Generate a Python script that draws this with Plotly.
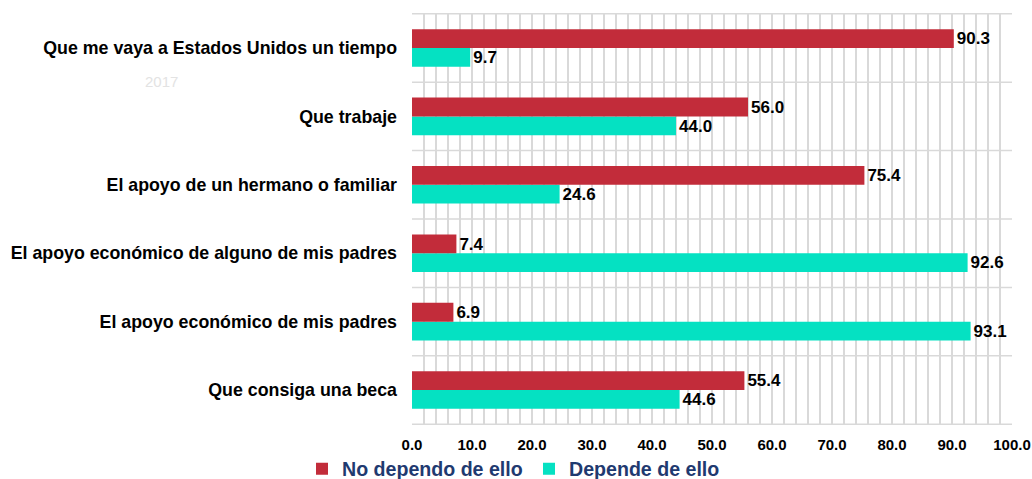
import plotly.graph_objects as go

categories = [
    "Que me vaya a Estados Unidos un tiempo",
    "Que trabaje",
    "El apoyo de un hermano o familiar",
    "El apoyo económico de alguno de mis padres",
    "El apoyo económico de mis padres",
    "Que consiga una beca",
]
no_depende = [90.3, 56.0, 75.4, 7.4, 6.9, 55.4]
depende = [9.7, 44.0, 24.6, 92.6, 93.1, 44.6]
x_ticks = [0, 10, 20, 30, 40, 50, 60, 70, 80, 90, 100]

RED = "#C22C3A"
CYAN = "#05E1C2"
FONT = "Arial, Liberation Sans, sans-serif"

fig = go.Figure()
fig.add_trace(go.Bar(
    y=categories, x=depende, orientation="h", name="Depende de ello",
    marker=dict(color=CYAN, line=dict(width=0)),
    text=[f"{v:.1f}" for v in depende], textposition="outside",
    textfont=dict(family=FONT, size=19, color="black", weight="bold"),
    cliponaxis=False, legendrank=2,
))
fig.add_trace(go.Bar(
    y=categories, x=no_depende, orientation="h", name="No dependo de ello",
    marker=dict(color=RED, line=dict(width=0)),
    text=[f"{v:.1f}" for v in no_depende], textposition="outside",
    textfont=dict(family=FONT, size=19, color="black", weight="bold"),
    cliponaxis=False, legendrank=1,
))

shapes = []
for i in range(len(categories) + 1):
    shapes.append(dict(type="line", xref="paper", x0=0, x1=1, yref="y",
                       y0=i - 0.5, y1=i - 0.5, line=dict(color="#D9D9D9", width=1.5),
                       layer="below"))

fig.update_layout(
    width=1032, height=479,
    margin=dict(l=412, r=20, t=13, b=54, autoexpand=False),
    paper_bgcolor="white", plot_bgcolor="white",
    barmode="group", bargap=0.45, bargroupgap=0,
    showlegend=True,
    legend=dict(orientation="h", xref="container", yref="container",
                x=302 / 1032, xanchor="left", y=1 - 469 / 479, yanchor="middle",
                font=dict(family=FONT, size=19.6, color="#1F3A70", weight="bold"),
                itemwidth=30, entrywidth=182, entrywidthmode="pixels"),
    shapes=shapes,
    annotations=[dict(text="2017", x=(161 - 412) / 600, y=(425 - 81) / 412,
                      xref="paper", yref="paper", xanchor="center", yanchor="middle",
                      showarrow=False,
                      font=dict(family=FONT, size=15, color="#E3E3E3"))],
)

fig.update_xaxes(
    range=[0, 100], tickvals=x_ticks, ticktext=[f"{v:.1f}" for v in x_ticks],
    tickfont=dict(family=FONT, size=15, color="black", weight="bold"),
    showgrid=True, gridcolor="#D9D9D9", gridwidth=1.5,
    minor=dict(dtick=2, showgrid=True, gridcolor="#D9D9D9", gridwidth=1.5),
    zeroline=False, showline=False, ticks="", ticklabelstandoff=9,
)
fig.update_yaxes(
    categoryorder="array", categoryarray=categories[::-1],
    tickfont=dict(family=FONT, size=17.8, color="black", weight="bold"),
    showgrid=False, zeroline=False, ticks="", ticklabelstandoff=14,
)

fig.write_html("out.html", config={"displayModeBar": False},
               post_script="document.body.style.margin='0';document.body.style.overflow='hidden';")
